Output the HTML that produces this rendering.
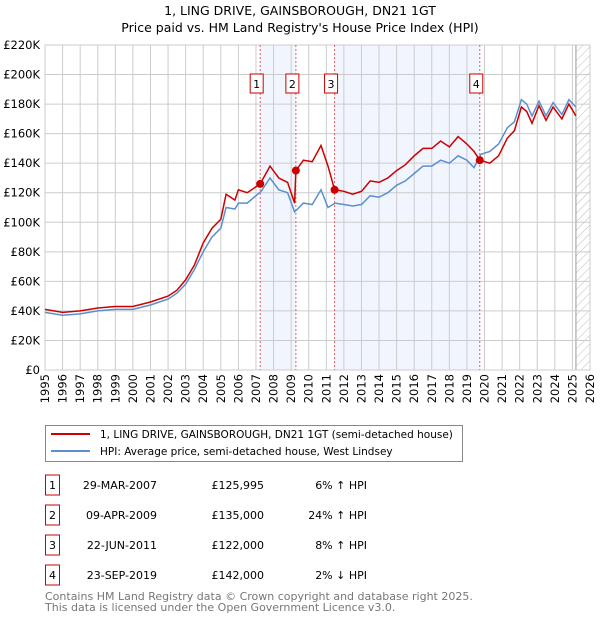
<!DOCTYPE html>
<html><head><meta charset="utf-8"><style>
body{margin:0;background:#fff;font-family:"Liberation Sans","DejaVu Sans",sans-serif;}
svg text{font-family:"DejaVu Sans","Liberation Sans",sans-serif;}
</style></head><body>
<svg id="c" width="600" height="620" viewBox="0 0 600 620">
<text x="300" y="15" text-anchor="middle" font-size="12.5" fill="#000">1, LING DRIVE, GAINSBOROUGH, DN21 1GT</text>
<text x="300" y="32" text-anchor="middle" font-size="12.5" fill="#000">Price paid vs. HM Land Registry's House Price Index (HPI)</text>
<g id="plot"></g>
<g>
<rect x="45.5" y="425.5" width="417" height="36" fill="#fff" stroke="#888"/>
<line x1="51" y1="434" x2="90" y2="434" stroke="#cc0000" stroke-width="2"/>
<text x="100" y="438" font-size="10.5">1, LING DRIVE, GAINSBOROUGH, DN21 1GT (semi-detached house)</text>
<line x1="51" y1="451" x2="90" y2="451" stroke="#5b8fd0" stroke-width="2"/>
<text x="100" y="455" font-size="10.5">HPI: Average price, semi-detached house, West Lindsey</text>
</g>
<g id="table" font-size="11"></g>
<text x="45" y="600" font-size="11" fill="#777">Contains HM Land Registry data © Crown copyright and database right 2025.</text>
<text x="45" y="611" font-size="11" fill="#777">This data is licensed under the Open Government Licence v3.0.</text>
</svg>
<script>
const yTicks=[0,20,40,60,80,100,120,140,160,180,200,220];
const years=[1995,1996,1997,1998,1999,2000,2001,2002,2003,2004,2005,2006,2007,2008,2009,2010,2011,2012,2013,2014,2015,2016,2017,2018,2019,2020,2021,2022,2023,2024,2025,2026];
const hpiT=[1995,1996,1997,1998,1999,2000,2001,2002,2002.5,2003,2003.5,2004,2004.5,2005,2005.3,2005.8,2006,2006.5,2007,2007.3,2007.8,2008.3,2008.8,2009.2,2009.7,2010.2,2010.7,2011.1,2011.5,2012,2012.5,2013,2013.5,2014,2014.5,2015,2015.5,2016,2016.5,2017,2017.5,2018,2018.5,2019,2019.4,2019.8,2020.3,2020.8,2021.3,2021.7,2022.1,2022.4,2022.7,2023.1,2023.5,2023.9,2024.4,2024.8,2025.2];
const hpiV=[39,37,38,40,41,41,44,48,52,58,68,80,90,96,110,109,113,113,118,121,130,122,120,107,113,112,122,110,113,112,111,112,118,117,120,125,128,133,138,138,142,140,145,142,137,146,148,153,164,168,183,180,172,182,172,181,173,183,178];
const redT=[1995,1996,1997,1998,1999,2000,2001,2002,2002.5,2003,2003.5,2004,2004.5,2005,2005.3,2005.8,2006,2006.5,2007,2007.24,2007.8,2008.3,2008.8,2009.2,2009.27,2009.7,2010.2,2010.7,2011.1,2011.47,2012,2012.5,2013,2013.5,2014,2014.5,2015,2015.5,2016,2016.5,2017,2017.5,2018,2018.5,2019,2019.4,2019.73,2020.3,2020.8,2021.3,2021.7,2022.1,2022.4,2022.7,2023.1,2023.5,2023.9,2024.4,2024.8,2025.2];
const redV=[41,39,40,42,43,43,46,50,54,61,71,86,96,102,119,115,122,120,124,126,138,130,127,113,135,142,141,152,138,122,121,119,121,128,127,130,135,139,145,150,150,155,151,158,153,148,142,140,145,157,162,178,175,167,179,169,178,170,180,172];
const saleLabels=["1","2","3","4"];
const saleT=[2007.24,2009.27,2011.47,2019.73];
const saleV=[125.995,135,122,142];
const saleDates=["29-MAR-2007","09-APR-2009","22-JUN-2011","23-SEP-2019"];
const salePrices=["£125,995","£135,000","£122,000","£142,000"];
const saleHpi=["6% ↑ HPI","24% ↑ HPI","8% ↑ HPI","2% ↓ HPI"];
const L=45,R=590,T=45,B=370;
const x=t=>L+(t-1995)*(R-L)/31;
const y=v=>B-v*(B-T)/220;
const NS="http://www.w3.org/2000/svg";
const g=document.getElementById('plot');
function mk(tag,at,parent){const e=document.createElementNS(NS,tag);for(const k in at)e.setAttribute(k,at[k]);(parent||g).appendChild(e);return e;}
for(const [a,b] of [[0,1],[2,3]]){const r=mk('rect',{x:x(saleT[a]),y:T,width:x(saleT[b])-x(saleT[a]),height:B-T,fill:'#eef3fc',opacity:0.8});

}
const defs=mk('defs',{});const pat=mk('pattern',{id:'h',width:6,height:6,patternUnits:'userSpaceOnUse',patternTransform:'rotate(45)'},defs);mk('line',{x1:0,y1:0,x2:0,y2:6,stroke:'#bbb','stroke-width':1},pat);
const hr=mk('rect',{x:x(2025.2),y:T,width:R-x(2025.2),height:B-T,fill:'url(#h)'});


mk('line',{x1:x(2025.2),y1:T,x2:x(2025.2),y2:B,stroke:'#999','stroke-width':1});
yTicks.forEach(v=>{mk('line',{x1:L,x2:R,y1:y(v),y2:y(v),stroke:'#ccc'});
const t=mk('text',{x:L-5,y:y(v)+4,'text-anchor':'end','font-size':'11.5'});t.textContent=v===0?'£0':'£'+v+'K';

});
years.forEach(v=>{mk('line',{x1:x(v),x2:x(v),y1:T,y2:B,stroke:'#ccc'});
const t=mk('text',{x:0,y:0,'text-anchor':'end','font-size':'11.5',transform:`translate(${x(v)+4},${B+4}) rotate(-90)`});t.textContent=v;

});
mk('rect',{x:L,y:T,width:R-L,height:B-T,fill:'none',stroke:'#ccc'});
saleT.forEach((t,i)=>{mk('line',{x1:x(t),x2:x(t),y1:T,y2:B,stroke:'#e06060','stroke-dasharray':'2,2','stroke-width':1});});
const pts=(ts,vs)=>ts.map((t,i)=>x(t).toFixed(1)+','+y(vs[i]).toFixed(1)).join(' ');
const hp=mk('polyline',{points:pts(hpiT,hpiV),fill:'none',stroke:'#5b8fd0','stroke-width':1.5});


const rp=mk('polyline',{points:pts(redT,redV),fill:'none',stroke:'#cc0000','stroke-width':1.5});


saleT.forEach((t,i)=>{const c=mk('circle',{cx:x(t),cy:y(saleV[i]),r:4,fill:'#cc0000'});


const b=mk('rect',{x:x(t)-10,y:74,width:13,height:19,fill:'#fff',stroke:'#cc0000'});


const tx=mk('text',{x:x(t)-3.5,y:88,'text-anchor':'middle','font-size':'11'});tx.textContent=saleLabels[i];

});
const tb=document.getElementById('table');
saleLabels.forEach((s,i)=>{const yy=482+i*30;
mk('rect',{x:45.5,y:yy-7,width:14,height:20,fill:'#fff',stroke:'#cc0000'},tb);
const a=mk('text',{x:52.5,y:yy+7,'text-anchor':'middle'},tb);a.textContent=s;


const d=mk('text',{x:157,y:yy+7,'text-anchor':'end'},tb);d.textContent=saleDates[i];


const p=mk('text',{x:264,y:yy+7,'text-anchor':'end'},tb);p.textContent=salePrices[i];


const h=mk('text',{x:367,y:yy+7,'text-anchor':'end'},tb);h.textContent=saleHpi[i];

});
</script>
</body></html>
